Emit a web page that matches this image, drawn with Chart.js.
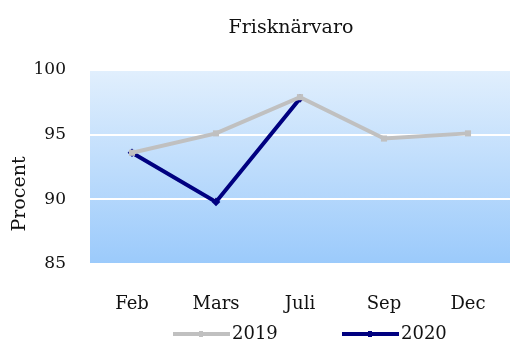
<!DOCTYPE html>
<html>
<head>
  <title>Frisknärvaro</title>
  <script src="https://cdn.jsdelivr.net/npm/chart.js"></script>
  <style>
    html, body { margin: 0; padding: 0; background: #fff; }
  </style>
</head>
<body>
  <canvas id="friskChart" width="518" height="344"></canvas>

  <script>
    const chartTitle = 'Frisknärvaro';
    const yAxisTitle = 'Procent';
    const months = ['Feb', 'Mars', 'Juli', 'Sep', 'Dec'];
    const values2019 = [93.6, 95.1, 97.9, 94.7, 95.1];
    const values2020 = [93.6, 89.8, 97.8, null, null];
    const yTicks = [85, 90, 95, 100];

    const serif = "'DejaVu Serif', 'Liberation Serif', serif";

    // blue gradient behind the plot area, title, y title and legend
    const decorations = {
      id: 'decorations',
      beforeDraw(chart) {
        const { ctx, chartArea: a } = chart;
        const g = ctx.createLinearGradient(0, a.top, 0, a.bottom);
        g.addColorStop(0, '#e1effd');
        g.addColorStop(1, '#9bcafb');
        ctx.save();
        ctx.fillStyle = g;
        ctx.fillRect(a.left, a.top, a.right - a.left, a.bottom - a.top);
        ctx.restore();
      },
      afterDraw(chart) {
        const { ctx, chartArea: a } = chart;
        ctx.save();
        ctx.fillStyle = '#111';
        ctx.textBaseline = 'middle';

        ctx.font = '19px ' + serif;
        ctx.textAlign = 'center';
        ctx.fillText(chartTitle, (a.left + a.right) / 2 - 9, 28);

        ctx.save();
        ctx.translate(20, 194);
        ctx.rotate(-Math.PI / 2);
        ctx.font = '19px ' + serif;
        ctx.fillText(yAxisTitle, 0, 0);
        ctx.restore();

        // legend
        ctx.font = '18px ' + serif;
        ctx.textAlign = 'left';
        let x = 173;
        const y = 334;
        chart.data.datasets.forEach(ds => {
          ctx.strokeStyle = ds.borderColor;
          ctx.lineWidth = 4;
          ctx.beginPath();
          ctx.moveTo(x, y);
          ctx.lineTo(x + 57, y);
          ctx.stroke();
          ctx.fillStyle = ds.borderColor;
          ctx.fillRect(x + 26, y - 3, 4, 6);
          ctx.fillStyle = '#111';
          ctx.fillText(ds.label, x + 59, y);
          x += 169;
        });
        ctx.restore();
      }
    };

    new Chart(document.getElementById('friskChart'), {
      type: 'line',
      data: {
        labels: months,
        datasets: [
          {
            label: '2019',
            data: values2019,
            borderColor: '#c0c0c0',
            backgroundColor: '#c0c0c0',
            borderWidth: 4,
            pointStyle: 'rect',
            pointRadius: 1.5,
            tension: 0
          },
          {
            label: '2020',
            data: values2020,
            borderColor: '#000080',
            backgroundColor: '#000080',
            borderWidth: 4,
            pointStyle: 'rectRot',
            pointRadius: 1.5,
            tension: 0
          }
        ]
      },
      options: {
        responsive: false,
        animation: false,
        layout: { padding: { top: 70, right: 0, bottom: 0, left: 0 } },
        plugins: {
          legend: { display: false },
          title: { display: false },
          tooltip: { enabled: false }
        },
        scales: {
          x: {
            offset: true,
            grid: { display: false },
            border: { display: false },
            ticks: { color: '#111', padding: 22, font: { family: serif, size: 18 } },
            afterFit(scale) { scale.height = 80; }
          },
          y: {
            min: 85,
            max: 100,
            afterBuildTicks(scale) { scale.ticks = yTicks.map(v => ({ value: v })); },
            grid: { color: '#ffffff', lineWidth: 2, drawTicks: false },
            border: { display: false },
            ticks: { color: '#111', padding: 24, font: { family: serif, size: 17 } },
            afterFit(scale) { scale.width = 90; }
          }
        }
      },
      plugins: [decorations]
    });
  </script>
</body>
</html>
